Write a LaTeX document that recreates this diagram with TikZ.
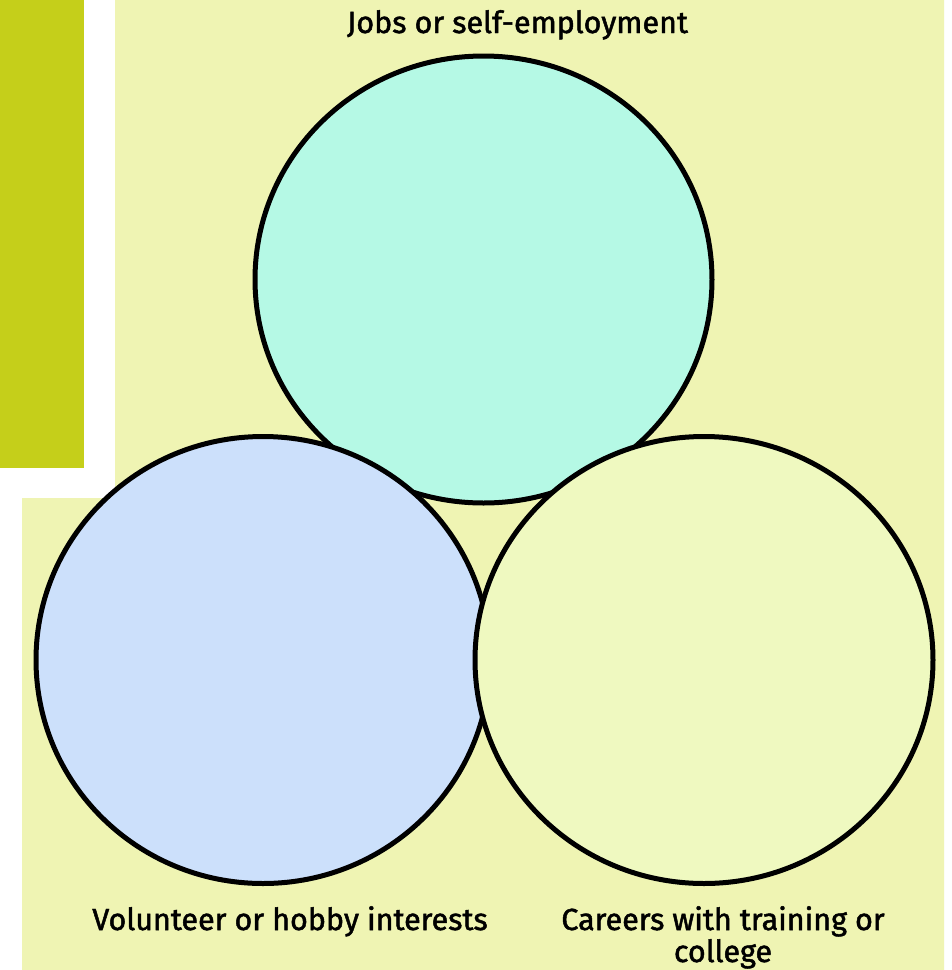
\documentclass[tikz,border=0pt]{standalone}
\usepackage{fontspec}
\setmainfont{Fira Sans}[FakeBold=1.6]
\usetikzlibrary{shapes.geometric}
\definecolor{bgyellow}{HTML}{EFF4B3}
\definecolor{barGreen}{HTML}{C5CF1A}
\definecolor{topfill}{HTML}{B5F9E5}
\definecolor{leftfill}{HTML}{CCE0FB}
\definecolor{rightfill}{HTML}{EFF9C0}
\tikzset{
  venn/.style={ellipse, draw=black, line width=5pt, inner sep=0pt},
  lbl/.style={font=\fontsize{30.5}{32}\selectfont, text=black, align=center, inner sep=0pt}
}
\begin{document}
\begin{tikzpicture}[x=1pt,y=-1pt]
\useasboundingbox (0,0) rectangle (952,970);
\fill[white] (0,0) rectangle (952,970);
\fill[bgyellow] (115,0) -- (944,0) -- (944,970) -- (22,970) -- (22,498) -- (115,498) -- cycle;
\fill[barGreen] (0,0) rectangle (84,468);
\node[venn, fill=topfill, minimum width=457pt, minimum height=447pt] (jobs) at (483.5,279.5) {};
\node[venn, fill=leftfill, minimum width=454pt, minimum height=447pt] (vol) at (263,660) {};
\node[venn, fill=rightfill, minimum width=458pt, minimum height=447pt] (car) at (704,660) {};
\node[lbl, anchor=base] (tjobs) at (517.5,33) {Jobs or self-employment};
\node[lbl, anchor=base] (tvol) at (290,930) {Volunteer or hobby interests};
\node[lbl, anchor=base] (tcar) at (723,962) {Careers with training or\\college};
\end{tikzpicture}
\end{document}
